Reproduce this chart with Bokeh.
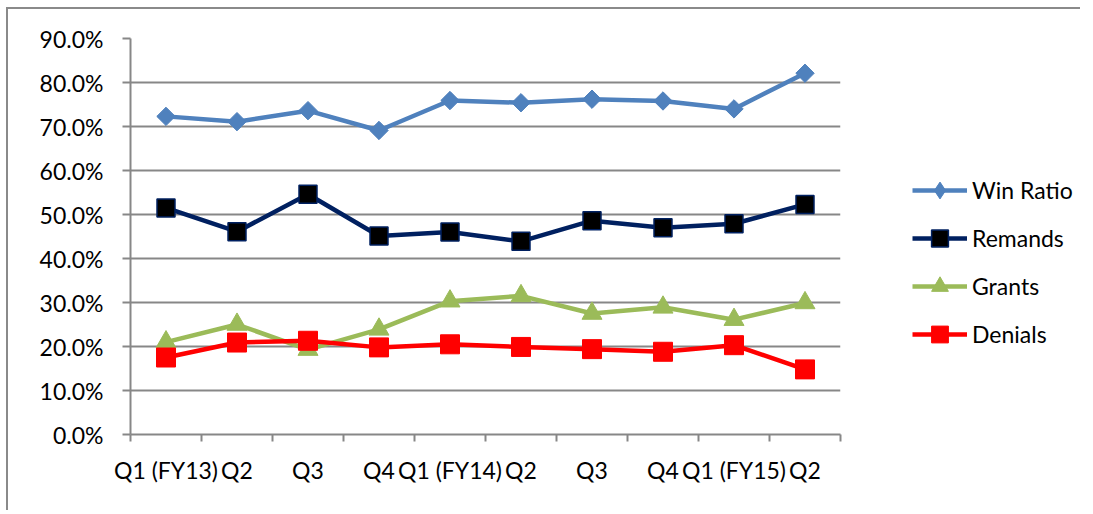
import math
from bokeh.plotting import figure
from bokeh.layouts import row
from bokeh.models import (FixedTicker, PrintfTickFormatter, Legend, LegendItem,
                          Range1d, ColumnDataSource)
from bokeh.embed import file_html
from bokeh.resources import INLINE

# ---- data ----
quarters = ["Q1 (FY13)", "Q2", "Q3", "Q4", "Q1 (FY14)", "Q2", "Q3", "Q4", "Q1 (FY15)", "Q2"]
win_ratio = [72.3, 71.1, 73.6, 69.1, 75.9, 75.4, 76.2, 75.8, 74.0, 82.1]
remands   = [51.5, 46.1, 54.6, 45.1, 46.0, 43.9, 48.6, 47.0, 47.9, 52.3]
grants    = [21.0, 25.0, 19.3, 23.9, 30.3, 31.5, 27.5, 28.9, 26.1, 29.9]
denials   = [17.5, 20.9, 21.3, 19.8, 20.5, 19.9, 19.4, 18.8, 20.3, 14.8]
y_ticks = [0, 10, 20, 30, 40, 50, 60, 70, 80, 90]

FONT = "Lato"
GRID = "#878787"

xs = [i + 0.5 for i in range(len(quarters))]

p = figure(frame_width=710, frame_height=396,
           min_border_left=122, min_border_right=10,
           min_border_top=29, min_border_bottom=76,
           x_range=Range1d(0, len(quarters)), y_range=Range1d(0, 90),
           output_backend="svg", toolbar_location=None,
           background_fill_color="white", border_fill_color="white")
p.outline_line_color = None

# grids
p.xgrid.grid_line_color = None
p.ygrid.grid_line_color = GRID
p.ygrid.grid_line_width = 2

# y axis
p.yaxis.ticker = FixedTicker(ticks=y_ticks)
p.yaxis.formatter = PrintfTickFormatter(format="%.1f%%")
p.yaxis.axis_line_color = GRID
p.yaxis.axis_line_width = 2
p.yaxis.major_tick_line_color = GRID
p.yaxis.major_tick_line_width = 2
p.yaxis.major_tick_out = 8
p.yaxis.major_tick_in = 0
p.yaxis.minor_tick_line_color = None
p.yaxis.major_label_standoff = 19
p.yaxis.major_label_text_font = FONT
p.yaxis.major_label_text_font_size = "23px"
p.yaxis.major_label_text_color = "black"

# x axis
p.xaxis.ticker = FixedTicker(ticks=xs, minor_ticks=list(range(len(quarters) + 1)))
p.xaxis.major_label_overrides = {x: q for x, q in zip(xs, quarters)}
p.xaxis.axis_line_color = GRID
p.xaxis.axis_line_width = 2
p.xaxis.major_tick_line_color = None
p.xaxis.major_tick_out = 0
p.xaxis.major_tick_in = 0
p.xaxis.minor_tick_line_color = GRID
p.xaxis.minor_tick_line_width = 2
p.xaxis.minor_tick_out = 7
p.xaxis.minor_tick_in = 0
p.xaxis.major_label_standoff = 14
p.xaxis.major_label_text_font = FONT
p.xaxis.major_label_text_font_size = "23px"
p.xaxis.major_label_text_color = "black"

series = [
    ("Win Ratio", win_ratio, "#4F81BD", dict(marker="square", size=13, angle=math.pi / 4,
                                            fill_color="#4F81BD", line_color="#4F81BD", line_width=1)),
    ("Remands", remands, "#002060", dict(marker="square", size=18,
                                         fill_color="black", line_color="#002060", line_width=1.5)),
    ("Grants", grants, "#9BBB59", dict(marker="triangle", size=20,
                                       fill_color="#9BBB59", line_color="#9BBB59", line_width=1)),
    ("Denials", denials, "#FF0000", dict(marker="square", size=19,
                                         fill_color="#FF0000", line_color="#FF0000", line_width=1)),
]

# legend panel (separate figure to the right)
p2 = figure(width=230, height=501, min_border=0,
            x_range=Range1d(0, 1), y_range=Range1d(0, 1),
            x_axis_location=None, y_axis_location=None,
            output_backend="svg", toolbar_location=None,
            background_fill_color="white", border_fill_color="white")
p2.outline_line_color = None
p2.grid.grid_line_color = None

items = []
for name, vals, color, mk in series:
    src = ColumnDataSource(dict(x=xs, y=vals))
    p.line("x", "y", source=src, line_color=color, line_width=4.5)
    p.scatter("x", "y", source=src, **mk)
    hidden = ColumnDataSource(dict(x=[-5, -4], y=[-5, -5]))
    l2 = p2.line("x", "y", source=hidden, line_color=color, line_width=4.5)
    mk2 = dict(mk)
    if mk2.get("angle"):
        mk2.pop("angle")
        mk2["marker"] = "diamond"
    s2 = p2.scatter("x", "y", source=hidden, **mk2)
    items.append(LegendItem(label=name, renderers=[l2, s2]))

legend = Legend(items=items, location=(62, 79),
                glyph_width=55, glyph_height=42, label_standoff=5,
                spacing=6, padding=0, margin=0,
                label_text_font=FONT, label_text_font_size="23px",
                label_text_color="black", label_height=42,
                border_line_color=None, background_fill_alpha=0)
p2.add_layout(legend, "center")

layout = row(p, p2, spacing=0,
             styles={"border-top": "2px solid #8a8a8a", "border-left": "2px solid #8a8a8a",
                     "margin-left": "6px", "margin-top": "7px"})

open("out.html", "w").write(file_html(layout, INLINE))
